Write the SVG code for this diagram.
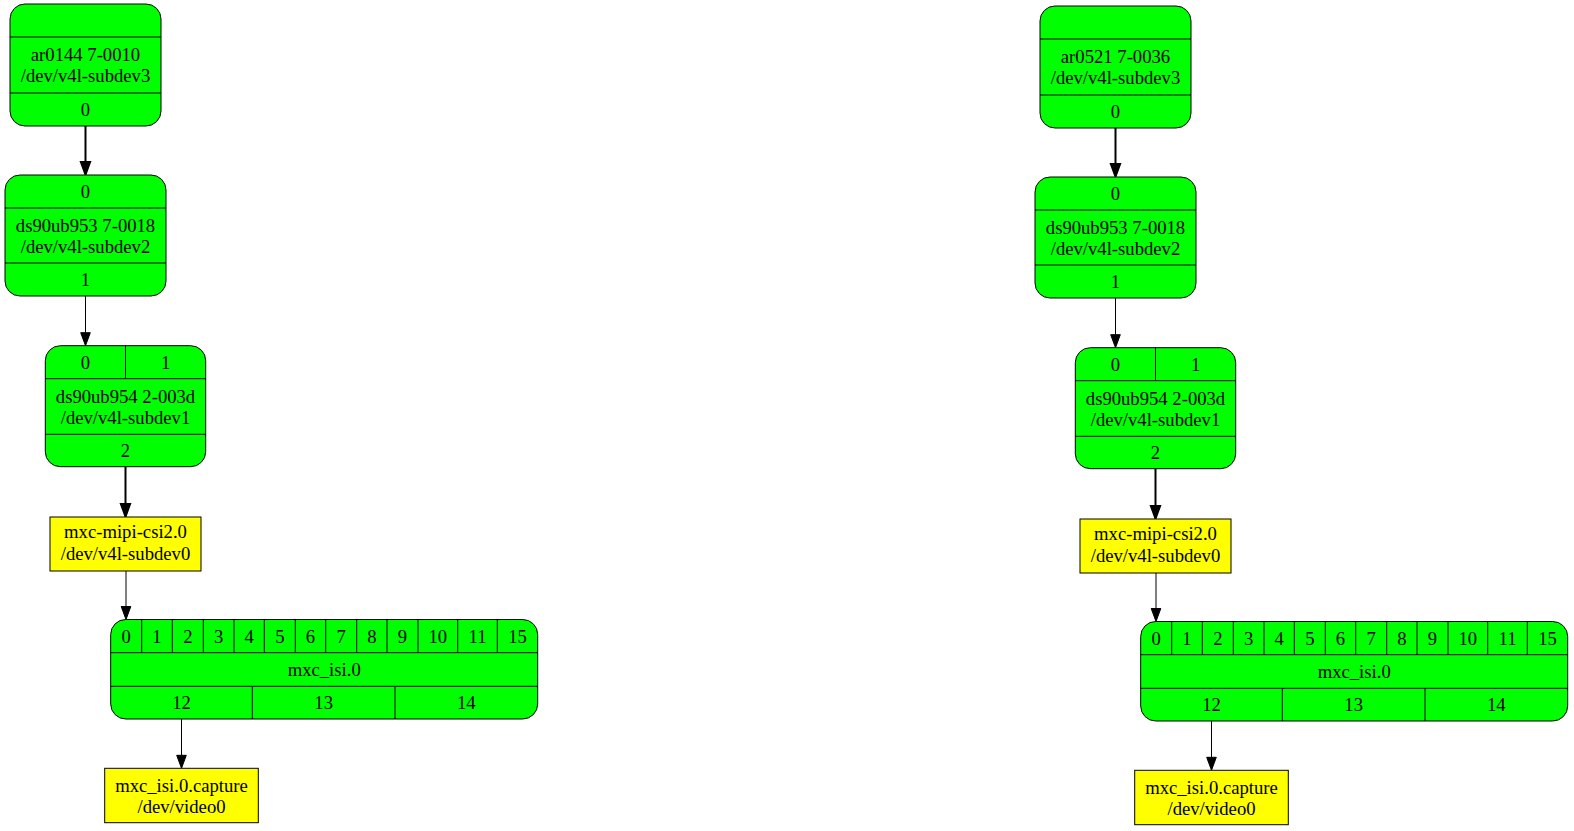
<svg xmlns="http://www.w3.org/2000/svg" width="1574" height="831" viewBox="0 0 1574 831">
<style>
.bg{fill:#ffffff}
.rec{fill:#00ff00;stroke:#000;stroke-width:1}
.ent{fill:#ffff00;stroke:#000;stroke-width:1}
.div{stroke:#000;stroke-width:1;fill:none}
text{font-family:"Liberation Serif","Times New Roman",serif;font-size:18.67px;text-anchor:middle;fill:#000}
.e1{stroke:#000;stroke-width:1;fill:none}
.e2{stroke:#000;stroke-width:2;fill:none}
</style>
<defs>
<marker id="ah1" markerUnits="userSpaceOnUse" markerWidth="16" markerHeight="14" refX="1" refY="7" orient="auto" overflow="visible">
<path d="M1,2.2 L14,7 L1,11.8 z" fill="#000" stroke="#000" stroke-width="1"/>
</marker>
<marker id="ah2" markerUnits="userSpaceOnUse" markerWidth="16" markerHeight="14" refX="1" refY="7" orient="auto" overflow="visible">
<path d="M1,2.4 L13.5,7 L1,11.6 z" fill="#000" stroke="#000" stroke-width="2"/>
</marker>
</defs>
<rect class="bg" x="0" y="0" width="1574" height="831"/>

<g id="graph-left">
<g id="L-edges">
<line class="e2" x1="85.5" y1="126" x2="85.5" y2="162" marker-end="url(#ah2)"/>
<line class="e1" x1="85.5" y1="296" x2="85.5" y2="332.7" marker-end="url(#ah1)"/>
<line class="e2" x1="125.5" y1="466.7" x2="125.5" y2="504" marker-end="url(#ah2)"/>
<line class="e1" x1="126" y1="571" x2="126" y2="606.5" marker-end="url(#ah1)"/>
<line class="e1" x1="181.5" y1="719" x2="181.5" y2="755.3" marker-end="url(#ah1)"/>
</g>
<g id="L-ar0144">
<rect class="rec" x="10" y="4" width="151" height="122" rx="15"/>
<path class="div" d="M10,37H161M10,93H161"/>
<text x="85.5" y="61">ar0144 7-0010</text>
<text x="85.5" y="82">/dev/v4l-subdev3</text>
<text x="85.5" y="115.5">0</text>
</g>
<g id="L-ds90ub953">
<rect class="rec" x="5" y="175" width="161" height="121" rx="15"/>
<path class="div" d="M5,208H166M5,263H166"/>
<text x="85.5" y="198">0</text>
<text x="85.5" y="231.5">ds90ub953 7-0018</text>
<text x="85.5" y="252.5">/dev/v4l-subdev2</text>
<text x="85.5" y="285.5">1</text>
</g>
<g id="L-ds90ub954">
<rect class="rec" x="45.3" y="345.7" width="160.4" height="121" rx="15"/>
<path class="div" d="M45.3,378.7H205.7M45.3,434.3H205.7M125.5,345.7V378.7"/>
<text x="85.4" y="368.5">0</text>
<text x="165.6" y="368.5">1</text>
<text x="125.5" y="402.8">ds90ub954 2-003d</text>
<text x="125.5" y="423.8">/dev/v4l-subdev1</text>
<text x="125.5" y="456.7">2</text>
</g>
<g id="L-mipi-csi2">
<rect class="ent" x="50" y="517" width="151" height="54"/>
<text x="125.5" y="538">mxc-mipi-csi2.0</text>
<text x="125.5" y="559.7">/dev/v4l-subdev0</text>
</g>
<g id="L-isi">
<rect class="rec" x="110.7" y="619.5" width="427" height="99.5" rx="15"/>
<path class="div" d="M110.7,652.7H537.7M110.7,686.3H537.7M141.7,619.5V652.7M172.3,619.5V652.7M203.3,619.5V652.7M234,619.5V652.7M264.3,619.5V652.7M295.3,619.5V652.7M325.7,619.5V652.7M356.7,619.5V652.7M387,619.5V652.7M418,619.5V652.7M457.7,619.5V652.7M497.3,619.5V652.7M252.3,686.3V719M395,686.3V719"/>
<text x="126.2" y="642.5">0</text>
<text x="157" y="642.5">1</text>
<text x="187.8" y="642.5">2</text>
<text x="218.7" y="642.5">3</text>
<text x="249.2" y="642.5">4</text>
<text x="279.8" y="642.5">5</text>
<text x="310.5" y="642.5">6</text>
<text x="341.2" y="642.5">7</text>
<text x="371.8" y="642.5">8</text>
<text x="402.5" y="642.5">9</text>
<text x="437.8" y="642.5">10</text>
<text x="477.5" y="642.5">11</text>
<text x="517.5" y="642.5">15</text>
<text x="324.2" y="675.7">mxc_isi.0</text>
<text x="181.5" y="709">12</text>
<text x="323.7" y="709">13</text>
<text x="466.3" y="709">14</text>
</g>
<g id="L-capture">
<rect class="ent" x="104.7" y="768.3" width="153.6" height="54.4"/>
<text x="181.5" y="791.8">mxc_isi.0.capture</text>
<text x="181.5" y="813">/dev/video0</text>
</g>
</g>

<g id="graph-right" transform="translate(1030,2)">
<g id="R-edges">
<line class="e2" x1="85.5" y1="126" x2="85.5" y2="162" marker-end="url(#ah2)"/>
<line class="e1" x1="85.5" y1="296" x2="85.5" y2="332.7" marker-end="url(#ah1)"/>
<line class="e2" x1="125.5" y1="466.7" x2="125.5" y2="504" marker-end="url(#ah2)"/>
<line class="e1" x1="126" y1="571" x2="126" y2="606.5" marker-end="url(#ah1)"/>
<line class="e1" x1="181.5" y1="719" x2="181.5" y2="755.3" marker-end="url(#ah1)"/>
</g>
<g id="R-ar0521">
<rect class="rec" x="10" y="4" width="151" height="122" rx="15"/>
<path class="div" d="M10,37H161M10,93H161"/>
<text x="85.5" y="61">ar0521 7-0036</text>
<text x="85.5" y="82">/dev/v4l-subdev3</text>
<text x="85.5" y="115.5">0</text>
</g>
<g id="R-ds90ub953">
<rect class="rec" x="5" y="175" width="161" height="121" rx="15"/>
<path class="div" d="M5,208H166M5,263H166"/>
<text x="85.5" y="198">0</text>
<text x="85.5" y="231.5">ds90ub953 7-0018</text>
<text x="85.5" y="252.5">/dev/v4l-subdev2</text>
<text x="85.5" y="285.5">1</text>
</g>
<g id="R-ds90ub954">
<rect class="rec" x="45.3" y="345.7" width="160.4" height="121" rx="15"/>
<path class="div" d="M45.3,378.7H205.7M45.3,434.3H205.7M125.5,345.7V378.7"/>
<text x="85.4" y="368.5">0</text>
<text x="165.6" y="368.5">1</text>
<text x="125.5" y="402.8">ds90ub954 2-003d</text>
<text x="125.5" y="423.8">/dev/v4l-subdev1</text>
<text x="125.5" y="456.7">2</text>
</g>
<g id="R-mipi-csi2">
<rect class="ent" x="50" y="517" width="151" height="54"/>
<text x="125.5" y="538">mxc-mipi-csi2.0</text>
<text x="125.5" y="559.7">/dev/v4l-subdev0</text>
</g>
<g id="R-isi">
<rect class="rec" x="110.7" y="619.5" width="427" height="99.5" rx="15"/>
<path class="div" d="M110.7,652.7H537.7M110.7,686.3H537.7M141.7,619.5V652.7M172.3,619.5V652.7M203.3,619.5V652.7M234,619.5V652.7M264.3,619.5V652.7M295.3,619.5V652.7M325.7,619.5V652.7M356.7,619.5V652.7M387,619.5V652.7M418,619.5V652.7M457.7,619.5V652.7M497.3,619.5V652.7M252.3,686.3V719M395,686.3V719"/>
<text x="126.2" y="642.5">0</text>
<text x="157" y="642.5">1</text>
<text x="187.8" y="642.5">2</text>
<text x="218.7" y="642.5">3</text>
<text x="249.2" y="642.5">4</text>
<text x="279.8" y="642.5">5</text>
<text x="310.5" y="642.5">6</text>
<text x="341.2" y="642.5">7</text>
<text x="371.8" y="642.5">8</text>
<text x="402.5" y="642.5">9</text>
<text x="437.8" y="642.5">10</text>
<text x="477.5" y="642.5">11</text>
<text x="517.5" y="642.5">15</text>
<text x="324.2" y="675.7">mxc_isi.0</text>
<text x="181.5" y="709">12</text>
<text x="323.7" y="709">13</text>
<text x="466.3" y="709">14</text>
</g>
<g id="R-capture">
<rect class="ent" x="104.7" y="768.3" width="153.6" height="54.4"/>
<text x="181.5" y="791.8">mxc_isi.0.capture</text>
<text x="181.5" y="813">/dev/video0</text>
</g>
</g>
</svg>
